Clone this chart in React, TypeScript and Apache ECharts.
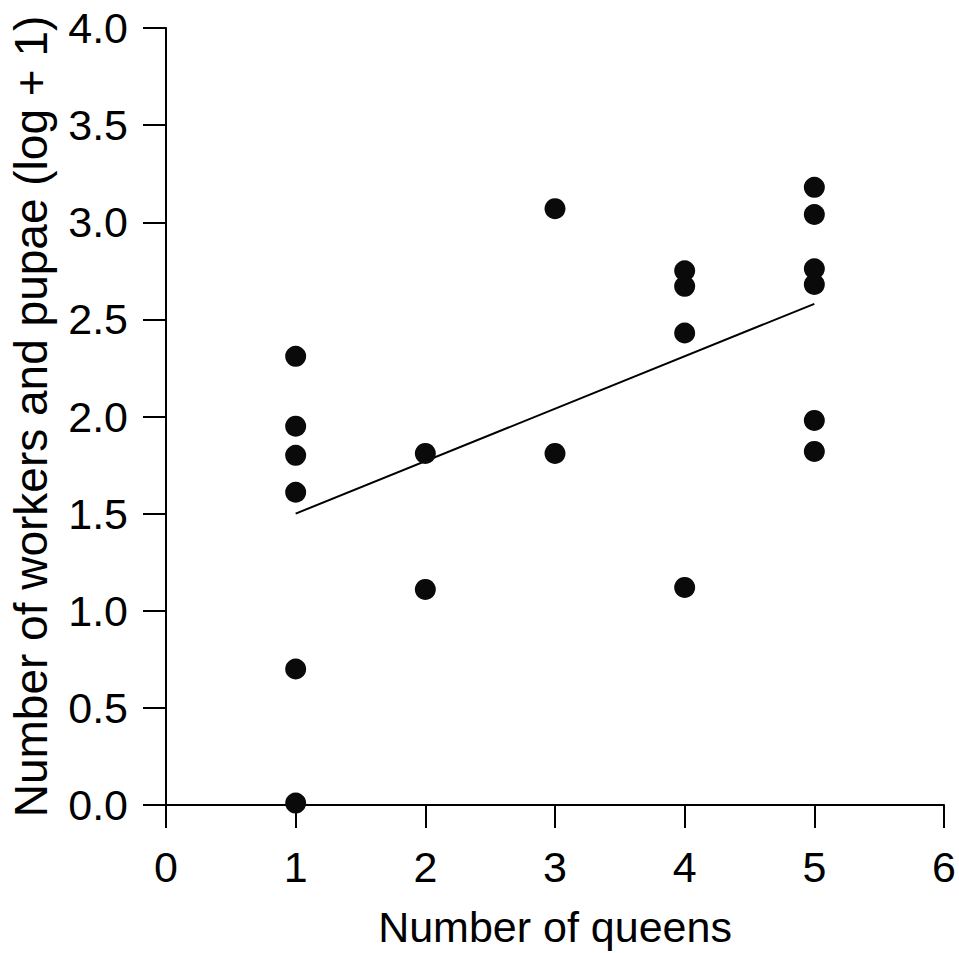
import React, { useEffect, useRef } from "react";
import * as echarts from "echarts";

const queens = [1, 1, 1, 1, 1, 1, 2, 2, 3, 3, 4, 4, 4, 4, 5, 5, 5, 5, 5, 5];
const workersPupae = [
  2.31, 1.95, 1.8, 1.61, 0.7, 0.01,
  1.81, 1.11,
  3.07, 1.81,
  2.75, 2.67, 2.43, 1.12,
  3.18, 3.04, 2.76, 2.68, 1.98, 1.82,
];
const fitX = [1, 5];
const fitY = [1.5, 2.58];

const xTitle = "Number of queens";
const yTitle = "Number of workers and pupae (log + 1)";

const FONT = "'Liberation Sans', Arial, Helvetica, sans-serif";

export default function App() {
  const ref = useRef<HTMLDivElement>(null);
  useEffect(() => {
    if (!ref.current) return;
    const chart = echarts.init(ref.current, null, { renderer: "svg" });
    const axisCommon = {
      axisLine: { show: true, onZero: false, lineStyle: { color: "#000", width: 2 } },
      axisTick: { show: true, inside: false, length: 23, lineStyle: { color: "#000", width: 2 } },
      splitLine: { show: false },
    };
    chart.setOption({
      animation: false,
      backgroundColor: "#fff",
      grid: { left: 163, right: 15, top: 28, bottom: 148, containLabel: false },
      xAxis: {
        type: "value",
        min: 0,
        max: 6,
        interval: 1,
        name: xTitle,
        nameLocation: "middle",
        nameGap: 100,
        nameTextStyle: { fontFamily: FONT, fontSize: 43, color: "#000" },
        ...axisCommon,
        axisLabel: { fontFamily: FONT, fontSize: 43, color: "#000", margin: 40 },
      },
      yAxis: {
        type: "value",
        min: 0,
        max: 4,
        interval: 0.5,
        name: yTitle,
        nameLocation: "middle",
        nameGap: 112,
        nameTextStyle: { fontFamily: FONT, fontSize: 46, color: "#000" },
        ...axisCommon,
        axisLabel: {
          fontFamily: FONT,
          fontSize: 43,
          color: "#000",
          margin: 38,
          formatter: (v: number) => v.toFixed(1),
        },
      },
      series: [
        {
          type: "line",
          data: fitX.map((x, i) => [x, fitY[i]]),
          showSymbol: false,
          symbol: "none",
          lineStyle: { color: "#000", width: 2 },
          z: 1,
        },
        {
          type: "scatter",
          data: queens.map((q, i) => [q, workersPupae[i]]),
          symbol: "circle",
          symbolSize: 21,
          itemStyle: { color: "#0a0a0a", opacity: 1 },
          z: 2,
        },
      ],
    });
    return () => chart.dispose();
  }, []);
  return <div ref={ref} style={{ width: 959, height: 953, position: "absolute", left: 0, top: 0 }} />;
}
